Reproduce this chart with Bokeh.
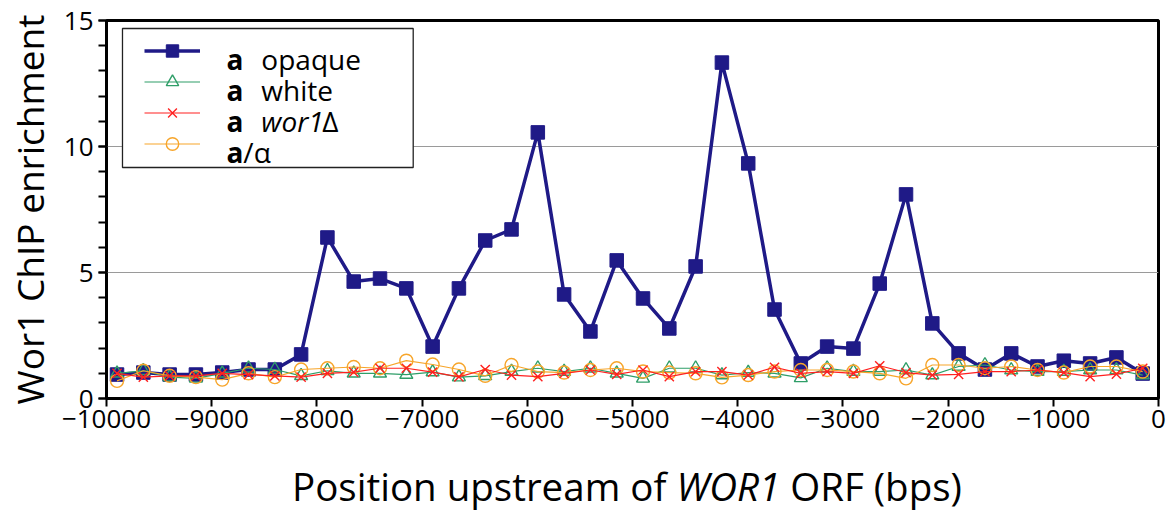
from bokeh.plotting import figure
from bokeh.layouts import column
from bokeh.models import (Range1d, SingleIntervalTicker, Label, BoxAnnotation,
                          Legend, LegendItem, Div)
from bokeh.embed import file_html
from bokeh.resources import INLINE

# ---------------- data ----------------
positions = [-9900, -9650, -9400, -9150, -8900, -8650, -8400, -8150, -7900, -7650,
             -7400, -7150, -6900, -6650, -6400, -6150, -5900, -5650, -5400, -5150,
             -4900, -4650, -4400, -4150, -3900, -3650, -3400, -3150, -2900, -2650,
             -2400, -2150, -1900, -1650, -1400, -1150, -900, -650, -400, -150]

a_opaque = [0.95, 1.03, 0.95, 0.95, 1.03, 1.15, 1.15, 1.75, 6.39, 4.64,
            4.76, 4.37, 2.06, 4.37, 6.27, 6.71, 10.56, 4.13, 2.66, 5.48,
            3.97, 2.78, 5.24, 13.33, 9.33, 3.53, 1.39, 2.06, 1.98, 4.56,
            8.10, 2.98, 1.79, 1.15, 1.79, 1.27, 1.50, 1.39, 1.63, 0.99]

a_white = [1.00, 1.10, 0.85, 0.80, 1.00, 1.20, 1.15, 0.90, 1.10, 1.00,
           1.00, 0.95, 1.05, 0.85, 0.90, 1.07, 1.20, 1.07, 1.20, 1.00,
           0.80, 1.20, 1.20, 0.93, 1.03, 1.00, 0.82, 1.20, 1.07, 1.07,
           1.13, 0.93, 1.27, 1.33, 1.13, 1.07, 1.07, 1.13, 1.13, 0.93]

a_wor1 = [1.00, 0.85, 0.90, 0.90, 1.00, 0.95, 0.90, 0.85, 1.00, 1.05,
          1.20, 1.20, 1.05, 0.86, 1.15, 0.93, 0.87, 1.00, 1.13, 0.96,
          1.13, 0.87, 1.07, 1.07, 0.93, 1.24, 1.00, 1.07, 1.00, 1.30,
          1.03, 0.93, 0.96, 1.07, 1.07, 1.13, 1.03, 0.87, 0.97, 1.20]

a_alpha = [0.70, 1.10, 0.90, 0.85, 0.75, 1.00, 0.85, 1.15, 1.20, 1.25,
           1.20, 1.50, 1.35, 1.15, 0.90, 1.33, 1.07, 1.03, 1.13, 1.20,
           1.07, 1.03, 1.00, 0.84, 0.93, 1.07, 1.13, 1.13, 1.07, 1.00,
           0.80, 1.33, 1.33, 1.20, 1.27, 1.13, 1.03, 1.27, 1.27, 1.07]

x_ticks_interval = 1000
y_ticks_interval = 5

# ---------------- styles ----------------
NAVY = "#1f1a87"
GREEN = "#2f9e68"
RED = "#ff2020"
ORANGE = "#f7a52a"
FONT = "Open Sans"

# frame placement on page (px) used to place annotations
FL, FT, FR, FB = 105, 20, 1158, 398
X0, X1, Y0, Y1 = -10000, 0, 0, 15
RIGHT_B, BOTTOM_B = 10, 47


def xd(px):
    return X0 + (px - FL) * (X1 - X0) / (FR - FL)


def yd(py):
    return Y0 + (FB - py) * (Y1 - Y0) / (FB - FT)


p = figure(width=FR + RIGHT_B, height=FB + BOTTOM_B,
           x_range=Range1d(X0, X1), y_range=Range1d(Y0, Y1),
           output_backend="svg", toolbar_location=None,
           min_border_left=FL, min_border_right=RIGHT_B,
           min_border_top=FT, min_border_bottom=BOTTOM_B)

p.background_fill_color = "white"
p.border_fill_color = "white"
p.outline_line_color = "black"
p.outline_line_width = 3

# axes
xt = SingleIntervalTicker(interval=x_ticks_interval, num_minor_ticks=0)
yt = SingleIntervalTicker(interval=y_ticks_interval, num_minor_ticks=5)
p.xaxis.ticker = xt
p.yaxis.ticker = yt
for ax in (p.xaxis[0], p.yaxis[0]):
    ax.axis_line_color = "black"
    ax.axis_line_width = 2.5
    ax.major_tick_line_color = "black"
    ax.major_tick_line_width = 2
    ax.major_tick_in = 0
    ax.major_tick_out = 8
    ax.minor_tick_line_color = "black"
    ax.minor_tick_line_width = 2
    ax.minor_tick_in = 0
    ax.major_label_text_font = FONT
    ax.major_label_text_font_size = "26px"
    ax.major_label_text_color = "black"
p.xaxis.minor_tick_out = 0
p.yaxis.minor_tick_out = 8
p.xaxis.major_label_standoff = 3
p.yaxis.major_label_standoff = 5

p.yaxis.axis_label = "Wor1 ChIP enrichment"
p.yaxis.axis_label_text_font = FONT
p.yaxis.axis_label_text_font_size = "37px"
p.yaxis.axis_label_text_font_style = "normal"
p.yaxis.axis_label_text_color = "black"
p.yaxis.axis_label_standoff = 6

p.xgrid.visible = False
p.ygrid.ticker = yt
p.ygrid.grid_line_color = "#9a9a9a"
p.ygrid.grid_line_width = 1

# series
l1 = p.line(positions, a_opaque, line_color=NAVY, line_width=3.5)
m1 = p.scatter(positions, a_opaque, marker="square", size=13.5,
               fill_color=NAVY, line_color=NAVY)
l2 = p.line(positions, a_white, line_color=GREEN, line_width=1.2)
m2 = p.scatter(positions, a_white, marker="triangle", size=13,
               fill_color=None, line_color=GREEN, line_width=1.4)
l4 = p.line(positions, a_alpha, line_color=ORANGE, line_width=1.2)
m4 = p.scatter(positions, a_alpha, marker="circle", size=13,
               fill_color=None, line_color=ORANGE, line_width=1.4)
l3 = p.line(positions, a_wor1, line_color=RED, line_width=1.2)
m3 = p.scatter(positions, a_wor1, marker="x", size=13,
               line_color=RED, line_width=1.4)

# legend box
box = BoxAnnotation(left=xd(121), right=xd(412), top=yd(28), bottom=yd(167),
                    fill_color="white", fill_alpha=1.0,
                    line_color="#222222", line_width=1.3, line_alpha=1.0)
p.add_layout(box)

legend = Legend(items=[
    LegendItem(label=" ", renderers=[l1, m1]),
    LegendItem(label="  ", renderers=[l2, m2]),
    LegendItem(label="   ", renderers=[l3, m3]),
    LegendItem(label="    ", renderers=[l4, m4]),
], location=(143 - 5 - FL, FB - 163.5), padding=5, spacing=0,
    glyph_width=56, glyph_height=31, label_height=31, label_width=0,
    label_standoff=0, label_text_font_size="1px",
    border_line_alpha=0, background_fill_alpha=0)
p.add_layout(legend)

# legend texts
LFS = "28px"
rows = [58, 89, 120, 151]


def lab(text, px, py, style="normal", size=LFS, align="left"):
    p.add_layout(Label(x=xd(px), y=yd(py), text=text, text_font=FONT,
                       text_font_size=size, text_font_style=style,
                       text_color="black", text_align=align,
                       text_baseline="alphabetic"))


lab("a", 225, rows[0], "bold")
lab("opaque", 260, rows[0])
lab("a", 225, rows[1], "bold")
lab("white", 260, rows[1])
lab("a", 225, rows[2], "bold")
lab("wor1", 260, rows[2], "italic")
lab("\u0394", 321, rows[2])
lab("a", 225, rows[3], "bold")
lab("/\u03b1", 242, rows[3])

# x axis title with italic gene name (HTML text below the plot)
xtitle = Div(text="Position upstream of <i>WOR1</i> ORF (bps)",
             width=1078, height=50, margin=(16, 0, 0, 88),
             styles={"font-family": FONT, "font-size": "38.5px",
                     "line-height": "50px", "text-align": "center",
                     "color": "black", "white-space": "nowrap"})

layout = column(p, xtitle, spacing=0)

open("out.html", "w").write(file_html(layout, INLINE))
